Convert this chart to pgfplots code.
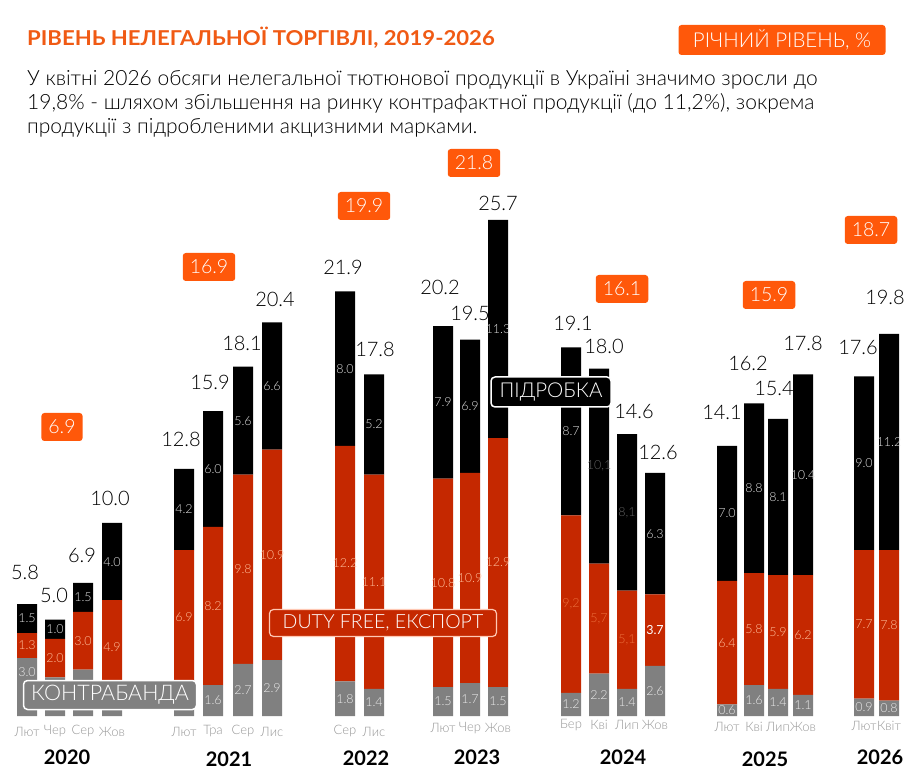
\documentclass[border=0pt]{standalone}
\usepackage{pgfplots}
\pgfplotsset{compat=1.18}
\usepackage{pgfplotstable}
\usepackage{fontspec}
\setmainfont{Lato}
\newfontfamily\lt{Lato Light}
\newfontfamily\ttl[FakeStretch=1.08]{Lato}
\definecolor{cor}{RGB}{255,88,10}
\definecolor{ctitle}{RGB}{240,90,20}
\definecolor{cred}{RGB}{197,40,0}
\definecolor{cgrey}{RGB}{128,128,128}
\definecolor{cmon}{RGB}{150,150,150}
\definecolor{lg}{RGB}{235,235,235}
\definecolor{lr}{RGB}{255,190,155}
\definecolor{lro}{RGB}{235,110,60}
\definecolor{lb}{RGB}{225,225,225}
\definecolor{ldg}{RGB}{95,95,95}
\newcommand\fs[1]{\fontsize{#1}{#1}\selectfont}

\pgfplotstableread{
x   g   r    b    gy   gl  rl   bl   my    mo
27  3.0 1.3  1.5  2.3  3.0 1.3  1.5  -0.8  Лют
55  2.0 2.0  1.0  1.0  {}  2.0  1.0  -0.8  Чер
83  2.4 3.0  1.5  1.2  {}  3.0  1.5  -0.8  Сер
112 1.1 4.9  4.0  0.55 {}  4.9  4.0  -0.8  Жов
184 1.7 6.9  4.2  0.85 {}  6.9  4.2  -0.8  Лют
213 1.6 8.2  6.0  0.8  1.6 8.2  6.0  -0.8  Тра
243 2.7 9.8  5.6  1.35 2.7 9.8  5.6  -0.8  Сер
272 2.9 10.9 6.6  1.45 2.9 10.9 6.6  -0.8  Лис
345 1.8 12.2 8.0  0.9  1.8 12.2 8.0  -0.8  Сер
374 1.4 11.1 5.2  0.7  1.4 11.1 5.2  -0.8  Лис
443 1.5 10.8 7.9  0.75 1.5 10.8 7.9  -0.62 Лют
470 1.7 10.9 6.9  0.85 1.7 10.9 6.9  -0.62 Чер
498 1.5 12.9 11.3 0.75 1.5 12.9 11.3 -0.62 Жов
571 1.2 9.2  8.7  0.6  1.2 {}   8.7  -0.47 Бер
599 2.2 5.7  10.1 1.1  2.2 {}   {}   -0.47 Кві
627 1.4 5.1  8.1  0.7  1.4 {}   {}   -0.47 Лип
655 2.6 3.7  6.3  1.3  2.6 {}   6.3  -0.47 Жов
727 0.6 6.4  7.0  0.3  0.6 6.4  7.0  -0.57 Лют
754 1.6 5.8  8.8  0.8  1.6 5.8  8.8  -0.57 Кві
778 1.4 5.9  8.1  0.7  1.4 5.9  8.1  -0.57 Лип
803 1.1 6.2  10.4 0.55 1.1 6.2  10.4 -0.57 Жов
864 0.9 7.7  9.0  0.45 0.9 7.7  9.0  -0.52 Лют
889 0.8 7.8  11.2 0.4  0.8 7.8  11.2 -0.52 Квіт
}\data

\pgfplotsset{base/.style={at={(0pt,0pt)}, anchor=south west, scale only axis,
  width=918pt, height=780pt, xmin=0, xmax=918, ymin=-3.316, ymax=37.098,
  hide axis, clip=false}}

\begin{document}
\begin{tikzpicture}
\path[use as bounding box, fill=white] (0pt,0pt) rectangle (918pt,780pt);
% bars
\begin{axis}[base, ybar stacked, bar width=20pt]
\addplot[fill=cgrey, draw=none] table[x=x, y=g] {\data};
\addplot[fill=cred, draw=none] table[x=x, y=r] {\data};
\addplot[fill=black, draw=none] table[x=x, y=b] {\data};
\end{axis}
% labels
\begin{axis}[base]
\addplot[draw=none, nodes near coords, point meta=explicit symbolic,
  every node near coord/.append style={anchor=center, inner sep=0pt, font=\lt\fs{12.5}, text=lg}]
  table[x=x, y=gy, meta=gl] {\data};
\addplot[draw=none, nodes near coords, point meta=explicit symbolic,
  every node near coord/.append style={anchor=center, inner sep=0pt, font=\lt\fs{12.5}, text=lr}]
  table[x=x, y expr=\thisrow{g}+\thisrow{r}/2, meta=rl] {\data};
\addplot[draw=none, nodes near coords, point meta=explicit symbolic,
  every node near coord/.append style={anchor=center, inner sep=0pt, font=\lt\fs{12.5}, text=lb}]
  table[x=x, y expr=\thisrow{g}+\thisrow{r}+\thisrow{b}/2, meta=bl] {\data};
\addplot[draw=none, nodes near coords, point meta=explicit symbolic,
  every node near coord/.append style={anchor=center, inner sep=0pt, font=\lt\fs{13}, text=cmon}]
  table[x=x, y=my, meta=mo] {\data};
\node[font=\lt\fs{12.5}, text=lro] at (axis cs:571,5.8) {9,2};
\node[font=\lt\fs{12.5}, text=lro] at (axis cs:599,5.05) {5,7};
\node[font=\lt\fs{12.5}, text=lro] at (axis cs:627,3.95) {5,1};
\node[font=\fs{12.5}, text=white] at (axis cs:655,4.45) {3.7};
\node[font=\lt\fs{12.5}, text=ldg] at (axis cs:599,12.95) {10,1};
\node[font=\lt\fs{12.5}, text=ldg] at (axis cs:627,10.55) {8,1};
\end{axis}

% totals
\tikzset{tot/.style={font=\lt\fs{20}, text=black, inner sep=0pt}}
\node[tot] at (25pt,208pt) {5.8};
\node[tot] at (54pt,185pt) {5.0};
\node[tot] at (82pt,225pt) {6.9};
\node[tot] at (110pt,282pt) {10.0};
\node[tot] at (181pt,341pt) {12.8};
\node[tot] at (210pt,398pt) {15.9};
\node[tot] at (242pt,437pt) {18.1};
\node[tot] at (275pt,481pt) {20.4};
\node[tot] at (343pt,513pt) {21.9};
\node[tot] at (375pt,431pt) {17.8};
\node[tot] at (440pt,493pt) {20.2};
\node[tot] at (470pt,467pt) {19.5};
\node[tot] at (498pt,577pt) {25.7};
\node[tot] at (573pt,457pt) {19.1};
\node[tot] at (604pt,434pt) {18.0};
\node[tot] at (634pt,369pt) {14.6};
\node[tot] at (658pt,328pt) {12.6};
\node[tot] at (722pt,368pt) {14.1};
\node[tot] at (748pt,417pt) {16.2};
\node[tot] at (774pt,392pt) {15.4};
\node[tot] at (803pt,437pt) {17.8};
\node[tot] at (858pt,433pt) {17.6};
\node[tot] at (885pt,483pt) {19.8};

% annual boxes
\tikzset{ob/.style={fill=cor, rounded corners=3pt, text=white, font=\lt\fs{19.5}, minimum height=28pt, inner xsep=7pt, inner ysep=0pt}}
\node[ob] at (62pt,353pt) {6.9};
\node[ob] at (209pt,513pt) {16.9};
\node[ob] at (364pt,574pt) {19.9};
\node[ob] at (474pt,617pt) {21.8};
\node[ob] at (622pt,491pt) {16.1};
\node[ob] at (769pt,485pt) {15.9};
\node[ob] at (871pt,550pt) {18.7};

% category boxes
\node[fill=cgrey, draw=white, line width=1.5pt, rounded corners=4pt, text=white, font=\lt\fs{21.5},
  minimum width=173pt, minimum height=29pt, inner sep=0pt] at (110pt,85pt) {КОНТРАБАНДА};
\node[fill=cred, draw={rgb,255:red,255;green,200;blue,180}, line width=1.2pt, rounded corners=4pt, text=white, font=\lt\fs{19.5},
  minimum width=227pt, minimum height=27pt, inner sep=0pt] at (383pt,157pt) {DUTY FREE, ЕКСПОРТ};
\node[fill=black, draw=white, line width=1.5pt, rounded corners=4pt, text=white, font=\lt\fs{20.5},
  minimum width=120pt, minimum height=30pt, inner sep=0pt] at (551pt,388pt) {ПІДРОБКА};
\node[fill=cor, rounded corners=3pt, text=white, font=\lt\fs{20.5},
  minimum width=207pt, minimum height=30pt, inner sep=0pt] at (782pt,740pt) {РІЧНИЙ РІВЕНЬ, \%};

% years
\tikzset{yr/.style={font=\bfseries\fs{20}, text=black}}
\node[yr] at (67pt,23pt) {2020};
\node[yr] at (229pt,21pt) {2021};
\node[yr] at (366pt,22pt) {2022};
\node[yr] at (477pt,23pt) {2023};
\node[yr] at (623pt,23pt) {2024};
\node[yr] at (765pt,21pt) {2025};
\node[yr] at (880pt,23pt) {2026};

% title and subtitle
\node[anchor=base west, inner sep=0pt, font=\ttl\bfseries\fs{20.5}, text=ctitle] at (27pt,734pt) {РІВЕНЬ НЕЛЕГАЛЬНОЇ ТОРГІВЛІ, 2019-2026};
\node[anchor=base west, inner sep=0pt, font=\lt\fs{21}, text=black] at (27pt,694pt) {У квітні 2026 обсяги нелегальної тютюнової продукції в Україні значимо зросли до};
\node[anchor=base west, inner sep=0pt, font=\lt\fs{21}, text=black] at (27pt,670pt) {19,8\% - шляхом збільшення на ринку контрафактної продукції (до 11,2\%), зокрема};
\node[anchor=base west, inner sep=0pt, font=\lt\fs{21}, text=black] at (27pt,646pt) {продукції з підробленими акцизними марками.};
\end{tikzpicture}
\end{document}
